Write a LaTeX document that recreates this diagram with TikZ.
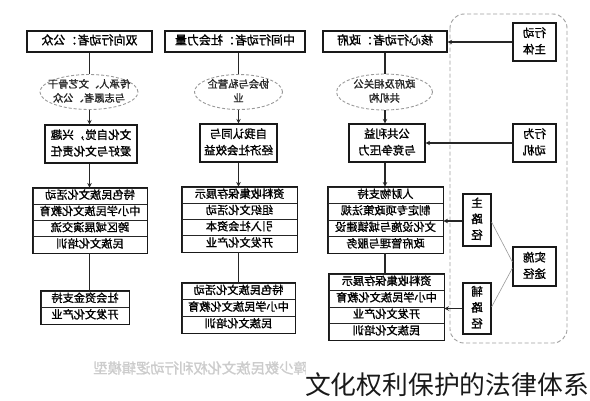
\documentclass[tikz,border=0pt]{standalone}
\usepackage{fontspec}
\usepackage{graphicx}
\usetikzlibrary{shapes.geometric,arrows.meta,calc}
\newfontfamily\cjk{Noto Sans CJK SC}
\newfontfamily\cjkb[FakeBold=1.3]{Noto Sans CJK SC}
\newcommand{\mir}[1]{\reflectbox{\begin{tabular}{@{}c@{}}#1\end{tabular}}}
\tikzset{
  box/.style={draw=black!90, line width=1.1pt, inner sep=0pt, font=\cjkb\fontsize{11.5}{16.5}\selectfont},
  hbox/.style={box, font=\cjkb\fontsize{12}{15}\selectfont},
  cell/.style={draw=black!85, line width=0.9pt, inner sep=0pt, font=\cjkb\fontsize{11.2}{14}\selectfont},
  oval/.style={ellipse, draw=gray!80, dashed, dash pattern=on 3pt off 2pt, line width=0.9pt, inner sep=0pt},
  ovaltext/.style={font=\cjkb\fontsize{10.3}{14}\selectfont, inner sep=0pt, text=black!85},
  conn/.style={line width=1.1pt, draw=black!85},
  arr/.style={conn, -{Stealth[length=4.5pt,width=4.5pt]}},
  thin/.style={line width=0.6pt, draw=gray!80},
}
\begin{document}
\begin{tikzpicture}[x=1pt,y=-1pt]
\useasboundingbox (0,0) rectangle (590,400);
\fill[white] (0,0) rectangle (590,400);
% column axes
\coordinate (cL) at (89.5,0);
\coordinate (cM) at (238.5,0);
\coordinate (cR) at (385,0);
% headers
\node[hbox, minimum width=125, minimum height=21] (h1) at (89.5,41.5) {\mir{双向行动者：公众}};
\node[hbox, minimum width=140, minimum height=21] (h2) at (235,41.5) {\mir{中间行动者：社会力量}};
\node[hbox, minimum width=124, minimum height=21] (h3) at (385,41.5) {\mir{核心行动者：政府}};
% ellipses
\node[oval, minimum width=98, minimum height=35] (e1) at (89,92) {};
\node[ovaltext] (e1t) at (e1) {\mir{传承人、文艺骨干\\与志愿者、公众}};
\node[oval, minimum width=88, minimum height=35] (e2) at (238.5,92) {};
\node[ovaltext] (e2t) at (e2) {\mir{协会与私营企\\业}};
\node[oval, minimum width=96, minimum height=36] (e3) at (384.5,92) {};
\node[ovaltext] (e3t) at (e3) {\mir{政府及相关公\\共机构}};
% motive boxes
\node[box, minimum width=92, minimum height=38] (b1) at (91,144) {\mir{文化自觉，兴趣\\爱好与文化责任}};
\node[box, minimum width=77, minimum height=38] (b2) at (238.5,143) {\mir{自我认同与\\经济社会效益}};
\node[box, minimum width=76, minimum height=38] (b3) at (387,143) {\mir{公共利益\\与竞争压力}};
% main path stacks
\node[cell, minimum width=114, minimum height=16.25] (s1a) at (90,196.1) {\mir{特色民族文化活动}};
\node[cell, minimum width=114, minimum height=16.25] (s1b) at (90,212.4) {\mir{中小学民族文化教育}};
\node[cell, minimum width=114, minimum height=16.25] (s1c) at (90,228.6) {\mir{跨区域展演交流}};
\node[cell, minimum width=114, minimum height=16.25] (s1d) at (90,244.9) {\mir{民族文化培训}};
\node[cell, minimum width=115, minimum height=16.25] (s2a) at (239.5,195.1) {\mir{资料收集保存展示}};
\node[cell, minimum width=115, minimum height=16.25] (s2b) at (239.5,211.4) {\mir{组织文化活动}};
\node[cell, minimum width=115, minimum height=16.25] (s2c) at (239.5,227.6) {\mir{引入社会资本}};
\node[cell, minimum width=115, minimum height=16.25] (s2d) at (239.5,243.9) {\mir{开发文化产业}};
\node[cell, minimum width=115, minimum height=16.5] (s3a) at (385.5,195.25) {\mir{人财物支持}};
\node[cell, minimum width=115, minimum height=16.5] (s3b) at (385.5,211.75) {\mir{制定专项政策法规}};
\node[cell, minimum width=115, minimum height=16.5] (s3c) at (385.5,228.25) {\mir{文化设施与城镇建设}};
\node[cell, minimum width=115, minimum height=16.5] (s3d) at (385.5,244.75) {\mir{政府管理与服务}};
% auxiliary path stacks
\node[cell, minimum width=88, minimum height=16.5] (t1a) at (85,299.25) {\mir{社会资金支持}};
\node[cell, minimum width=88, minimum height=16.5] (t1b) at (85,315.75) {\mir{开发文化产业}};
\node[cell, minimum width=113, minimum height=16.67] (t2a) at (238.5,291.3) {\mir{特色民族文化活动}};
\node[cell, minimum width=113, minimum height=16.67] (t2b) at (238.5,308) {\mir{中小学民族文化教育}};
\node[cell, minimum width=113, minimum height=16.67] (t2c) at (238.5,324.7) {\mir{民族文化培训}};
\node[cell, minimum width=115, minimum height=16.5] (t3a) at (386.5,282.25) {\mir{资料收集保存展示}};
\node[cell, minimum width=115, minimum height=16.5] (t3b) at (386.5,298.75) {\mir{中小学民族文化教育}};
\node[cell, minimum width=115, minimum height=16.5] (t3c) at (386.5,315.25) {\mir{开发文化产业}};
\node[cell, minimum width=115, minimum height=16.5] (t3d) at (386.5,331.75) {\mir{民族文化培训}};
% outer stack frames
\draw[line width=1.1pt, draw=black!90] (s1a.north west) rectangle (s1d.south east);
\draw[line width=1.1pt, draw=black!90] (s2a.north west) rectangle (s2d.south east);
\draw[line width=1.1pt, draw=black!90] (s3a.north west) rectangle (s3d.south east);
\draw[line width=1.1pt, draw=black!90] (t1a.north west) rectangle (t1b.south east);
\draw[line width=1.1pt, draw=black!90] (t2a.north west) rectangle (t2c.south east);
\draw[line width=1.1pt, draw=black!90] (t3a.north west) rectangle (t3d.south east);
% right legend
\draw[gray!75, dashed, dash pattern=on 4pt off 2.5pt, line width=0.9pt, rounded corners=14pt] (450,14) rectangle (567,343);
\node[box, minimum width=43, minimum height=38] (z1) at (534.5,42) {\mir{行动\\主体}};
\node[box, minimum width=43, minimum height=38] (z2) at (534.5,143) {\mir{行为\\动机}};
\node[box, minimum width=28, minimum height=52, font=\cjkb\fontsize{11.5}{16}\selectfont] (z3) at (477,220) {\mir{主\\路\\径}};
\node[box, minimum width=28, minimum height=51, font=\cjkb\fontsize{11.5}{16}\selectfont] (z4) at (477,308.5) {\mir{辅\\路\\径}};
\node[box, minimum width=43, minimum height=39] (z5) at (534.5,266.5) {\mir{实施\\途径}};
% vertical connectors
\draw[conn] (h1.south -| cL) -- (e1.north -| cL);
\draw[arr] (e1.south -| cL) -- (b1.north -| cL);
\draw[arr] (b1.south -| cL) -- (s1a.north -| cL);
\draw[conn] (s1d.south -| cL) -- (t1a.north -| cL);
\draw[conn] (h2.south -| cM) -- (e2.north -| cM);
\draw[arr] (e2.south -| cM) -- (b2.north -| cM);
\draw[arr] (b2.south -| cM) -- (s2a.north -| cM);
\draw[conn] (s2d.south -| cM) -- (t2a.north -| cM);
\draw[conn] (h3.south -| cR) -- (e3.north -| cR);
\draw[arr] (e3.south -| cR) -- (b3.north -| cR);
\draw[arr] (b3.south -| cR) -- (s3a.north -| cR);
\draw[conn] (s3d.south -| cR) -- (t3a.north -| cR);
% horizontal connectors from legend
\draw[arr] (z1.west) -- (z1.west -| h3.east);
\draw[arr] (z2.west) -- (z2.west -| b3.east);
\draw[arr] ($(z3.west)+(0,1)$) -- ($(z3.west -| s3c.east)+(0,1)$);
\draw[arr] (z4.west) -- (z4.west -| t3b.east);
\draw[thin] ($(z3.east)+(0,2)$) -- ($(z5.west)+(0,-4.5)$);
\draw[thin] ($(z4.east)+(0,-1.5)$) -- ($(z5.west)+(0,1.5)$);
% caption (partly covered) and overlay title
\node[inner sep=0pt, anchor=west, font=\cjkb\fontsize{14.3}{16}\selectfont, text=gray!40] (cap) at (93,368) {\reflectbox{障少数民族文化权利行动逻辑模型}};
\fill[white] (306,356) rectangle (590,400);
\node[inner sep=0pt, font=\cjk\fontsize{25.8}{28}\selectfont, text=black!90] (wm) at (447,385) {文化权利保护的法律体系};
\end{tikzpicture}
\end{document}
